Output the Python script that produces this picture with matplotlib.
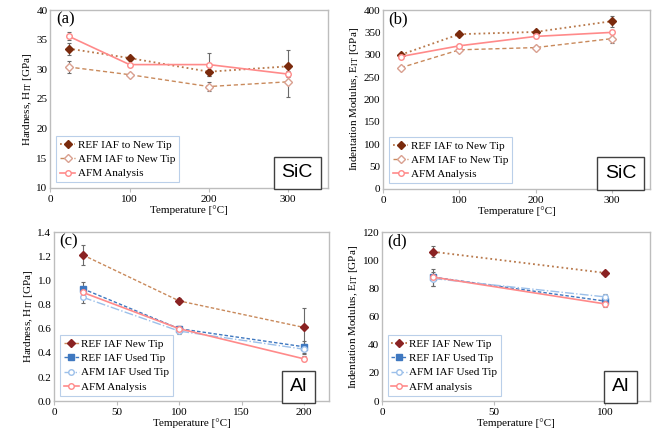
import matplotlib.pyplot as plt

plt.rcParams['font.family'] = ['Liberation Serif', 'DejaVu Serif']
plt.rcParams['mathtext.fontset'] = 'stix'

# SiC data
sic_temp = [23, 100, 200, 300]
sic_h_ref = [33.5, 31.9, 29.6, 30.5]
sic_h_ref_err = [1.0, 0.4, 0.8, 2.8]
sic_h_afm_iaf = [30.4, 29.1, 27.1, 27.9]
sic_h_afm_iaf_err = [1.0, 0.3, 0.8, 2.5]
sic_h_afm = [35.6, 30.8, 30.8, 29.2]
sic_h_afm_err = [0.7, 0.3, 2.0, 0.5]

sic_e_ref = [300, 346, 351, 375]
sic_e_ref_err = [5, 3, 3, 12]
sic_e_afm_iaf = [271, 311, 316, 336]
sic_e_afm_iaf_err = [3, 3, 3, 10]
sic_e_afm = [296, 320, 341, 350]
sic_e_afm_err = [3, 3, 3, 4]

# Al data
al_h_temp = [23, 100, 200]
al_h_ref_new = [1.21, 0.83, 0.61]
al_h_ref_new_err = [0.08, 0.02, 0.16]
al_h_ref_used = [0.93, 0.60, 0.45]
al_h_ref_used_err = [0.06, 0.02, 0.05]
al_h_afm_used = [0.86, 0.58, 0.43]
al_h_afm_used_err = [0.05, 0.02, 0.04]
al_h_afm = [0.90, 0.60, 0.35]
al_h_afm_err = [0.02, 0.02, 0.02]

al_e_temp = [23, 100]
al_e_ref_new = [106, 91]
al_e_ref_new_err = [4, 1.5]
al_e_ref_used = [88, 71]
al_e_ref_used_err = [6, 2]
al_e_afm_used = [87, 74]
al_e_afm_used_err = [5, 2]
al_e_afm = [88, 69]
al_e_afm_err = [1, 2]

ERR = '#6a6a6a'
BROWN_M = '#7a2a0c'
BROWN_L = '#b8784a'
TAN_L = '#c98a5c'
TAN_M = '#d9a090'
PINK = '#ff8a8a'
DARKRED = '#8a2222'
BLUE = '#3f78c0'
LBLUE = '#9cc0ea'


def series(ax, x, y, e, label, color, ls, marker, mfc, mec, lw=1.0, dashes=None):
    ax.errorbar(x, y, yerr=e, fmt='none', ecolor=ERR, elinewidth=0.8,
                capsize=1.2, capthick=0.8, zorder=2)
    line, = ax.plot(x, y, color=color, linestyle=ls, linewidth=lw,
                    marker=marker, markersize=4, markerfacecolor=mfc,
                    markeredgecolor=mec, markeredgewidth=1.0, label=label,
                    zorder=3)
    if dashes is not None:
        line.set_dashes(dashes)


def style(ax, xlim, xticks, ylim, yticks, ylabel, tag, mat, fmt):
    ax.set_xlim(*xlim)
    ax.set_ylim(*ylim)
    ax.set_xticks(xticks)
    ax.set_yticks(yticks)
    ax.set_yticklabels([fmt.format(v) for v in yticks])
    for s in ax.spines.values():
        s.set_color('#bdbdbd')
        s.set_linewidth(1.0)
    ax.tick_params(axis='both', labelsize=8, color='#bdbdbd', length=3,
                   width=0.8, pad=2)
    ax.tick_params(axis='y', length=0)
    ax.set_xlabel('Temperature [°C]', fontsize=8, labelpad=1)
    ax.set_ylabel(ylabel, fontsize=8, labelpad=2)
    ax.text(0.02, 0.99, tag, transform=ax.transAxes, fontsize=12,
            ha='left', va='top')
    ax.text(0.89, 0.085, mat, transform=ax.transAxes, fontsize=14,
            family=['Liberation Sans', 'DejaVu Sans'], ha='center',
            va='center',
            bbox=dict(boxstyle='square,pad=0.4', fc='white', ec='#404040',
                      lw=1.0))
    leg = ax.legend(loc='lower left', fontsize=8, frameon=True,
                    fancybox=False, borderpad=0.35, labelspacing=0.4,
                    handlelength=1.4, handletextpad=0.2,
                    borderaxespad=0.5, bbox_to_anchor=(0.0, 0.0))
    leg.get_frame().set_edgecolor('#a9c4e4')
    leg.get_frame().set_linewidth(0.8)


fig = plt.figure(figsize=(6.53, 4.37), dpi=100)
ax_a = fig.add_axes([0.077, 0.570, 0.425, 0.407])
ax_b = fig.add_axes([0.587, 0.568, 0.408, 0.409])
ax_c = fig.add_axes([0.083, 0.082, 0.421, 0.387])
ax_d = fig.add_axes([0.585, 0.082, 0.410, 0.387])

# (a)
series(ax_a, sic_temp, sic_h_ref, sic_h_ref_err, 'REF IAF to New Tip',
       BROWN_L, ':', 'D', BROWN_M, BROWN_M, lw=1.3)
series(ax_a, sic_temp, sic_h_afm_iaf, sic_h_afm_iaf_err, 'AFM IAF to New Tip',
       TAN_L, '--', 'D', 'white', TAN_M, dashes=(3, 2))
series(ax_a, sic_temp, sic_h_afm, sic_h_afm_err, 'AFM Analysis',
       PINK, '-', 'o', 'white', PINK, lw=1.2)
style(ax_a, (0, 350), [0, 100, 200, 300], (10, 40), list(range(10, 41, 5)),
      r'Hardness, H$_{\rm IT}$ [GPa]', '(a)', 'SiC', '{:.0f}')

# (b)
series(ax_b, sic_temp, sic_e_ref, sic_e_ref_err, 'REF IAF to New Tip',
       BROWN_L, ':', 'D', BROWN_M, BROWN_M, lw=1.3)
series(ax_b, sic_temp, sic_e_afm_iaf, sic_e_afm_iaf_err, 'AFM IAF to New Tip',
       TAN_L, '--', 'D', 'white', TAN_M, dashes=(3, 2))
series(ax_b, sic_temp, sic_e_afm, sic_e_afm_err, 'AFM Analysis',
       PINK, '-', 'o', 'white', PINK, lw=1.2)
style(ax_b, (0, 350), [0, 100, 200, 300], (0, 400), list(range(0, 401, 50)),
      r'Indentation Modulus, E$_{\rm IT}$ [GPa]', '(b)', 'SiC', '{:.0f}')

# (c)
series(ax_c, al_h_temp, al_h_ref_new, al_h_ref_new_err, 'REF IAF New Tip',
       TAN_L, '--', 'D', DARKRED, DARKRED, dashes=(2.5, 1.5))
series(ax_c, al_h_temp, al_h_ref_used, al_h_ref_used_err, 'REF IAF Used Tip',
       BLUE, '--', 's', BLUE, BLUE, dashes=(2.5, 1.5))
series(ax_c, al_h_temp, al_h_afm_used, al_h_afm_used_err, 'AFM IAF Used Tip',
       LBLUE, '-.', 'o', 'white', LBLUE)
series(ax_c, al_h_temp, al_h_afm, al_h_afm_err, 'AFM Analysis',
       PINK, '-', 'o', 'white', PINK, lw=1.2)
style(ax_c, (0, 220), [0, 50, 100, 150, 200],
      (0, 1.4), [0.0, 0.2, 0.4, 0.6, 0.8, 1.0, 1.2, 1.4],
      r'Hardness, H$_{\rm IT}$ [GPa]', '(c)', 'Al', '{:.1f}')

# (d)
series(ax_d, al_e_temp, al_e_ref_new, al_e_ref_new_err, 'REF IAF New Tip',
       BROWN_L, ':', 'D', DARKRED, DARKRED, lw=1.3)
series(ax_d, al_e_temp, al_e_ref_used, al_e_ref_used_err, 'REF IAF Used Tip',
       BLUE, '--', 's', BLUE, BLUE, dashes=(2.5, 1.5))
series(ax_d, al_e_temp, al_e_afm_used, al_e_afm_used_err, 'AFM IAF Used Tip',
       LBLUE, '-.', 'o', 'white', LBLUE)
series(ax_d, al_e_temp, al_e_afm, al_e_afm_err, 'AFM analysis',
       PINK, '-', 'o', 'white', PINK, lw=1.2)
style(ax_d, (0, 120), [0, 50, 100], (0, 120), list(range(0, 121, 20)),
      r'Indentation Modulus, E$_{\rm IT}$ [GPa]', '(d)', 'Al', '{:.0f}')

fig.savefig('out.png', dpi=100)
